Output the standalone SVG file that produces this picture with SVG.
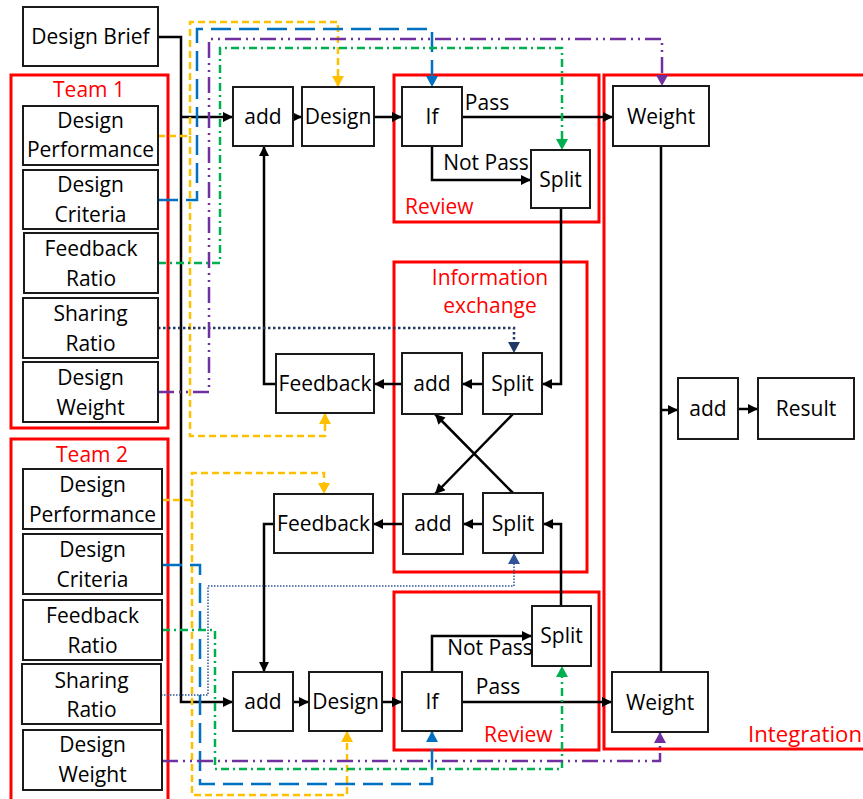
<svg xmlns="http://www.w3.org/2000/svg" width="863" height="799" viewBox="0 0 863 799">
<defs>
<style>
.box{fill:#fff;stroke:#1a1a1a;stroke-width:2}
.grp{fill:none;stroke:#ff0000;stroke-width:3}
.t{font-family:"Open Sans","Liberation Sans",sans-serif;font-size:21px;fill:#000;text-anchor:middle}
.r{font-family:"Open Sans","Liberation Sans",sans-serif;font-size:21px;fill:#ff0000}
.k{fill:none;stroke:#000;stroke-width:2.5}
.c{fill:none;stroke-width:2.5}
.or{stroke:#ffc000;stroke-dasharray:7 4}
.bl{stroke:#0070c0;stroke-dasharray:20 8}
.gr{stroke:#00b050;stroke-dasharray:8 4 2 4}
.pu{stroke:#7030a0;stroke-dasharray:16 5 2 5 2 5}
.nv{stroke:#203864;stroke-dasharray:2.5 2.5}
.st{stroke:#2f5597;stroke-width:1.5;stroke-dasharray:1.5 1.5}
</style>
<marker id="ak" markerUnits="userSpaceOnUse" markerWidth="11" markerHeight="11" refX="10" refY="5" orient="auto"><path d="M0,0 L10,5 L0,10 z" fill="#000"/></marker>
<marker id="aor" markerUnits="userSpaceOnUse" markerWidth="12" markerHeight="13" refX="11" refY="6" orient="auto"><path d="M0,0 L11,6 L0,12 z" fill="#ffc000"/></marker>
<marker id="abl" markerUnits="userSpaceOnUse" markerWidth="12" markerHeight="13" refX="11" refY="6" orient="auto"><path d="M0,0 L11,6 L0,12 z" fill="#0070c0"/></marker>
<marker id="agr" markerUnits="userSpaceOnUse" markerWidth="12" markerHeight="13" refX="11" refY="6" orient="auto"><path d="M0,0 L11,6 L0,12 z" fill="#00b050"/></marker>
<marker id="apu" markerUnits="userSpaceOnUse" markerWidth="12" markerHeight="13" refX="11" refY="6" orient="auto"><path d="M0,0 L11,6 L0,12 z" fill="#7030a0"/></marker>
<marker id="anv" markerUnits="userSpaceOnUse" markerWidth="12" markerHeight="13" refX="11" refY="6" orient="auto"><path d="M0,0 L11,6 L0,12 z" fill="#203864"/></marker>
<marker id="ast" markerUnits="userSpaceOnUse" markerWidth="12" markerHeight="13" refX="11" refY="6" orient="auto"><path d="M0,0 L11,6 L0,12 z" fill="#2f5597"/></marker>
</defs>
<rect width="863" height="799" fill="#fff"/>

<g id="groups">
<g id="team1"><rect class="grp" x="11" y="75" width="157" height="353"/><text class="r" x="89" y="97" text-anchor="middle">Team 1</text></g>
<g id="team2"><rect class="grp" x="11" y="439" width="157" height="380"/><text class="r" x="92" y="462" text-anchor="middle">Team 2</text></g>
<g id="review1"><rect class="grp" x="394" y="75" width="205" height="147"/><text class="r" x="405" y="214">Review</text></g>
<g id="infoexchange"><rect class="grp" x="394" y="262" width="193" height="310"/><text class="r" x="490" y="285" text-anchor="middle">Information</text><text class="r" x="490" y="313" text-anchor="middle">exchange</text></g>
<g id="review2"><rect class="grp" x="394" y="592" width="205" height="158"/><text class="r" x="484" y="742">Review</text></g>
<g id="integration"><rect class="grp" x="604" y="75" width="270" height="674"/><text class="r" x="748" y="742" textLength="114" lengthAdjust="spacingAndGlyphs">Integration</text></g>
</g>

<g id="connectors">
<path class="k" d="M158,37 H181 V702 H233" marker-end="url(#ak)"/>
<path class="k" d="M181,117 H233" marker-end="url(#ak)"/>
<path class="k" d="M292,117 H302" marker-end="url(#ak)"/>
<path class="k" d="M374,117 H402" marker-end="url(#ak)"/>
<path class="k" d="M462,117 H613" marker-end="url(#ak)"/>
<path class="k" d="M432,146 V180 H531" marker-end="url(#ak)"/>
<path class="k" d="M561,208 V384 H542" marker-end="url(#ak)"/>
<path class="k" d="M483,384 H462" marker-end="url(#ak)"/>
<path class="k" d="M402,384 H374" marker-end="url(#ak)"/>
<path class="k" d="M276,384 H264 V146" marker-end="url(#ak)"/>
<path class="k" d="M513,414 L435,494" marker-end="url(#ak)"/>
<path class="k" d="M513,493 L435,414" marker-end="url(#ak)"/>
<path class="k" d="M483,524 H463" marker-end="url(#ak)"/>
<path class="k" d="M403,524 H373" marker-end="url(#ak)"/>
<path class="k" d="M274,524 H264 V672" marker-end="url(#ak)"/>
<path class="k" d="M293,702 H309" marker-end="url(#ak)"/>
<path class="k" d="M382,702 H402" marker-end="url(#ak)"/>
<path class="k" d="M462,702 H612" marker-end="url(#ak)"/>
<path class="k" d="M432,672 V636 H532" marker-end="url(#ak)"/>
<path class="k" d="M561,606 V524 H543" marker-end="url(#ak)"/>
<path class="k" d="M661,146 V672"/>
<path class="k" d="M661,410 H678" marker-end="url(#ak)"/>
<path class="k" d="M738,409 H758" marker-end="url(#ak)"/>

<path class="c or" d="M158,136 H190 V22 H338 V87" marker-end="url(#aor)"/>
<path class="c or" d="M190,136 V436 H325 V413" marker-end="url(#aor)"/>
<path class="c bl" d="M158,200 H197 V29 H432 V87" marker-end="url(#abl)"/>
<path class="c gr" d="M158,263 H220 V48 H562 V150" marker-end="url(#agr)"/>
<path class="c nv" d="M158,328 H514 V353" marker-end="url(#anv)"/>
<path class="c pu" d="M158,392 H209 V39 H662 V86" marker-end="url(#apu)"/>

<path class="c or" d="M162,500 H192 V473 H324 V494" marker-end="url(#aor)"/>
<path class="c or" d="M192,500 V795 H347 V731" marker-end="url(#aor)"/>
<path class="c bl" d="M162,565 H200 V784 H432 V731" marker-end="url(#abl)"/>
<path class="c gr" d="M162,630 H215 V769 H562 V666" marker-end="url(#agr)"/>
<path class="c st" d="M161,695 H208 V586 H514 V553" marker-end="url(#ast)"/>
<path class="c pu" d="M162,761 H660 V732" marker-end="url(#apu)"/>
</g>

<g id="brief"><rect class="box" x="23" y="7" width="135" height="59"/><text class="t" x="90.5" y="44">Design Brief</text></g>
<g id="t1-perf"><rect class="box" x="23" y="106" width="135" height="59"/><text class="t" x="90.5" y="128">Design</text><text class="t" x="90.5" y="157">Performance</text></g>
<g id="t1-crit"><rect class="box" x="23" y="170" width="135" height="59"/><text class="t" x="90.5" y="192">Design</text><text class="t" x="90.5" y="222">Criteria</text></g>
<g id="t1-fb"><rect class="box" x="24" y="233" width="134" height="60"/><text class="t" x="91" y="256">Feedback</text><text class="t" x="91" y="286">Ratio</text></g>
<g id="t1-share"><rect class="box" x="23" y="298" width="135" height="60"/><text class="t" x="90.5" y="321">Sharing</text><text class="t" x="90.5" y="351">Ratio</text></g>
<g id="t1-weight"><rect class="box" x="23" y="362" width="135" height="60"/><text class="t" x="90.5" y="385">Design</text><text class="t" x="90.5" y="415">Weight</text></g>

<g id="t2-perf"><rect class="box" x="23" y="469" width="139" height="60"/><text class="t" x="92.5" y="492">Design</text><text class="t" x="92.5" y="522">Performance</text></g>
<g id="t2-crit"><rect class="box" x="23" y="534" width="139" height="60"/><text class="t" x="92.5" y="557">Design</text><text class="t" x="92.5" y="587">Criteria</text></g>
<g id="t2-fb"><rect class="box" x="23" y="600" width="139" height="60"/><text class="t" x="92.5" y="623">Feedback</text><text class="t" x="92.5" y="653">Ratio</text></g>
<g id="t2-share"><rect class="box" x="22" y="664" width="139" height="60"/><text class="t" x="91.5" y="688">Sharing</text><text class="t" x="91.5" y="717">Ratio</text></g>
<g id="t2-weight"><rect class="box" x="23" y="730" width="139" height="60"/><text class="t" x="92.5" y="752">Design</text><text class="t" x="92.5" y="782">Weight</text></g>

<g id="add1"><rect class="box" x="233" y="87" width="60" height="59"/><text class="t" x="263" y="124">add</text></g>
<g id="design1"><rect class="box" x="302" y="87" width="72" height="59"/><text class="t" x="338" y="124">Design</text></g>
<g id="if1"><rect class="box" x="402" y="87" width="60" height="59"/><text class="t" x="432" y="124">If</text></g>
<g id="split-r1"><rect class="box" x="531" y="150" width="59" height="58"/><text class="t" x="560.5" y="187">Split</text></g>
<g id="weight1"><rect class="box" x="613" y="86" width="96" height="60"/><text class="t" x="661" y="124">Weight</text></g>
<g id="add-int"><rect class="box" x="678" y="378" width="60" height="61"/><text class="t" x="708" y="416">add</text></g>
<g id="result"><rect class="box" x="758" y="378" width="96" height="61"/><text class="t" x="806" y="416">Result</text></g>
<g id="weight2"><rect class="box" x="612" y="672" width="96" height="60"/><text class="t" x="660" y="710">Weight</text></g>

<g id="feedback1"><rect class="box" x="276" y="354" width="98" height="59"/><text class="t" x="325" y="391">Feedback</text></g>
<g id="ie-add1"><rect class="box" x="402" y="353" width="60" height="61"/><text class="t" x="432" y="391">add</text></g>
<g id="ie-split1"><rect class="box" x="483" y="353" width="59" height="61"/><text class="t" x="512.5" y="391">Split</text></g>
<g id="feedback2"><rect class="box" x="274" y="494" width="99" height="59"/><text class="t" x="323.5" y="531">Feedback</text></g>
<g id="ie-add2"><rect class="box" x="403" y="494" width="60" height="60"/><text class="t" x="433" y="531">add</text></g>
<g id="ie-split2"><rect class="box" x="483" y="493" width="60" height="60"/><text class="t" x="513" y="531">Split</text></g>

<g id="add2"><rect class="box" x="233" y="672" width="60" height="59"/><text class="t" x="263" y="709">add</text></g>
<g id="design2"><rect class="box" x="309" y="672" width="73" height="59"/><text class="t" x="345.5" y="709">Design</text></g>
<g id="if2"><rect class="box" x="402" y="672" width="60" height="59"/><text class="t" x="432" y="709">If</text></g>
<g id="split-r2"><rect class="box" x="532" y="606" width="59" height="60"/><text class="t" x="561.5" y="643">Split</text></g>

<g id="labels">
<text class="t" x="487" y="110">Pass</text>
<text class="t" x="486" y="170">Not Pass</text>
<text class="t" x="490" y="655">Not Pass</text>
<text class="t" x="498" y="694">Pass</text>
</g>
</svg>
